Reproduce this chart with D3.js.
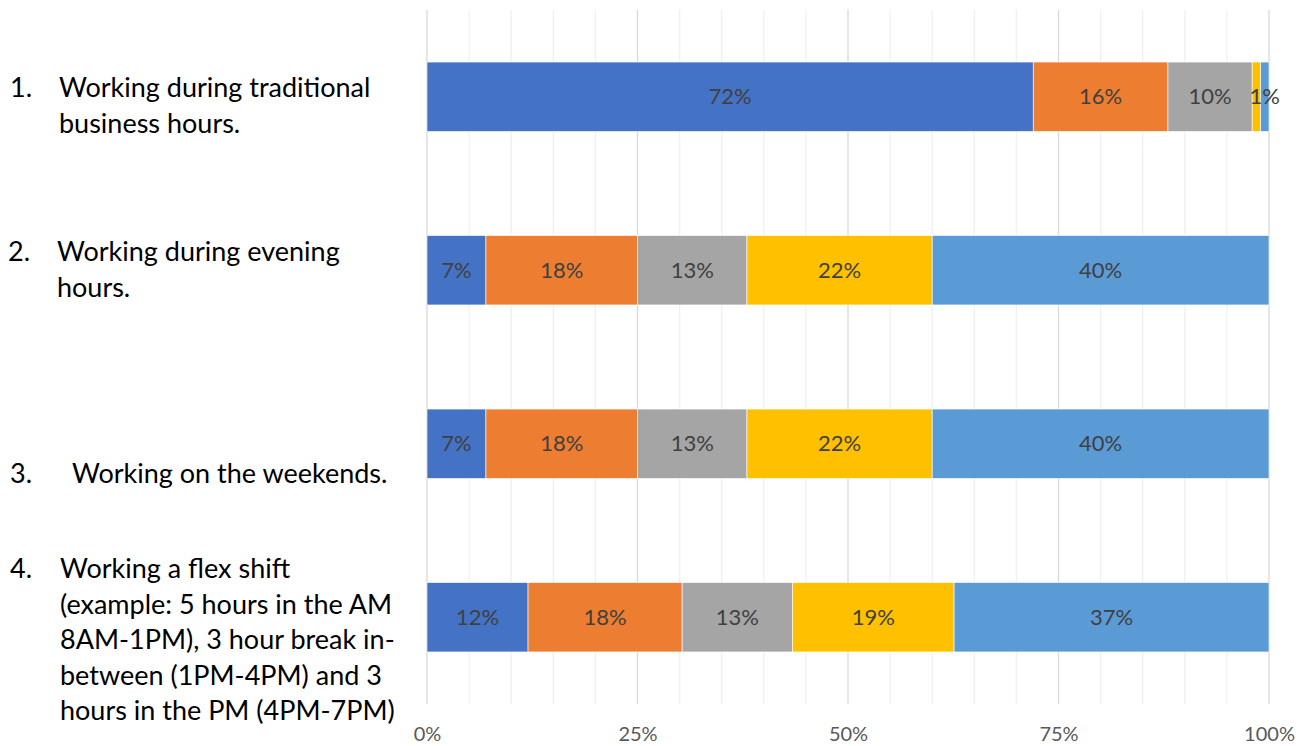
<!DOCTYPE html>
<html>
<head>
<meta charset="utf-8">
<script src="https://cdn.jsdelivr.net/npm/d3@7"></script>
<style>
  html, body { margin: 0; padding: 0; background: #fff; }
  svg { display: block; font-family: Lato, "Open Sans", sans-serif; }
</style>
</head>
<body>
<svg id="chart" width="1302" height="746"></svg>
<script>
// Survey items (one bar each)
const categories = [
  "Working during traditional business hours.",
  "Working during evening hours.",
  "Working on the weekends.",
  "Working a flex shift"
];

// Wrapped label lines for each item, with its list number
const categoryNumbers = ["1.", "2.", "3.", "4."];
const categoryLines = [
  ["Working during traditional", "business hours."],
  ["Working during evening", "hours."],
  ["Working on the weekends."],
  ["Working a flex shift", "(example: 5 hours in the AM", "8AM-1PM), 3 hour break in-", "between (1PM-4PM) and 3", "hours in the PM (4PM-7PM)"]
];

// Response shares (%) for the five answer groups, per item
const seriesA = [72, 7, 7, 12.0];
const seriesB = [16, 18, 18, 18.3];
const seriesC = [10, 13, 13, 13.1];
const seriesD = [1, 22, 22, 19.2];
const seriesE = [1, 40, 40, 37.4];
const seriesValues = [seriesA, seriesB, seriesC, seriesD, seriesE];
const seriesColors = ["#4472C4", "#ED7D31", "#A5A5A5", "#FFC000", "#5B9BD5"];
// Segments whose value label is left off (the tiny yellow slice on item 1)
const hiddenLabels = [[3, 0]];

const xTicks = [0, 25, 50, 75, 100];

const svg = d3.select("#chart");
const plot = { left: 427, right: 1269, top: 10, bottom: 704 };

const x = d3.scaleLinear().domain([0, 100]).range([plot.left, plot.right]);
const y = d3.scaleBand().domain(categories).range([plot.top, plot.bottom]).paddingInner(0.6).paddingOuter(0.3);

// Gridlines every 5%, darker at the labelled quarters
const grid = svg.append("g");
grid.selectAll("line")
  .data(d3.range(0, 101, 5))
  .join("line")
  .attr("x1", d => x(d)).attr("x2", d => x(d))
  .attr("y1", plot.top).attr("y2", plot.bottom)
  .attr("stroke", d => d % 25 === 0 ? "#d9d9d9" : "#f0f0f0")
  .attr("stroke-width", 1.3);

// Stack the series
const rows = categories.map((c, i) => {
  const r = { cat: c };
  seriesValues.forEach((s, k) => r["s" + k] = s[i]);
  return r;
});
const keys = seriesValues.map((_, k) => "s" + k);
const stacked = d3.stack().keys(keys)(rows);

const layers = svg.append("g").selectAll("g")
  .data(stacked)
  .join("g")
  .attr("fill", (d, k) => seriesColors[k]);

layers.selectAll("rect")
  .data(d => d)
  .join("rect")
  .attr("x", d => x(d[0]))
  .attr("width", d => x(d[1]) - x(d[0]))
  .attr("y", d => y(d.data.cat))
  .attr("height", y.bandwidth())
  .attr("stroke", "#fff")
  .attr("stroke-width", 0.6);

// Value labels
const labels = svg.append("g")
  .attr("font-size", 22)
  .attr("fill", "#404040")
  .attr("text-anchor", "middle");
stacked.forEach((layer, k) => {
  layer.forEach((d, i) => {
    if (hiddenLabels.some(h => h[0] === k && h[1] === i)) return;
    labels.append("text")
      .attr("x", (x(d[0]) + x(d[1])) / 2)
      .attr("y", y(d.data.cat) + y.bandwidth() / 2)
      .attr("dy", "0.35em")
      .text(Math.round(d[1] - d[0]) + "%");
  });
});

// X axis tick labels
const xAxis = d3.axisBottom(x).tickValues(xTicks).tickFormat(d => d + "%").tickSize(0).tickPadding(0);
const axisG = svg.append("g")
  .attr("transform", `translate(0, ${plot.bottom})`)
  .call(xAxis);
axisG.select(".domain").remove();
axisG.selectAll("text")
  .attr("font-family", "Lato, sans-serif")
  .attr("font-size", 20)
  .attr("fill", "#595959")
  .attr("dy", "1.85em");

// Category labels at the left
const catPos = [
  { numX: 10, textX: 59, base: 97 },
  { numX: 8, textX: 57, base: 261 },
  { numX: 10, textX: 72, base: 483 },
  { numX: 10, textX: 60, base: 578 }
];
const lineGap = 35.5;
const catG = svg.append("g").attr("font-size", 27).attr("fill", "#000");
categories.forEach((c, i) => {
  const p = catPos[i];
  catG.append("text").attr("x", p.numX).attr("y", p.base).text(categoryNumbers[i]);
  categoryLines[i].forEach((ln, j) => {
    catG.append("text").attr("x", p.textX).attr("y", p.base + j * lineGap).text(ln);
  });
});
</script>
</body>
</html>
